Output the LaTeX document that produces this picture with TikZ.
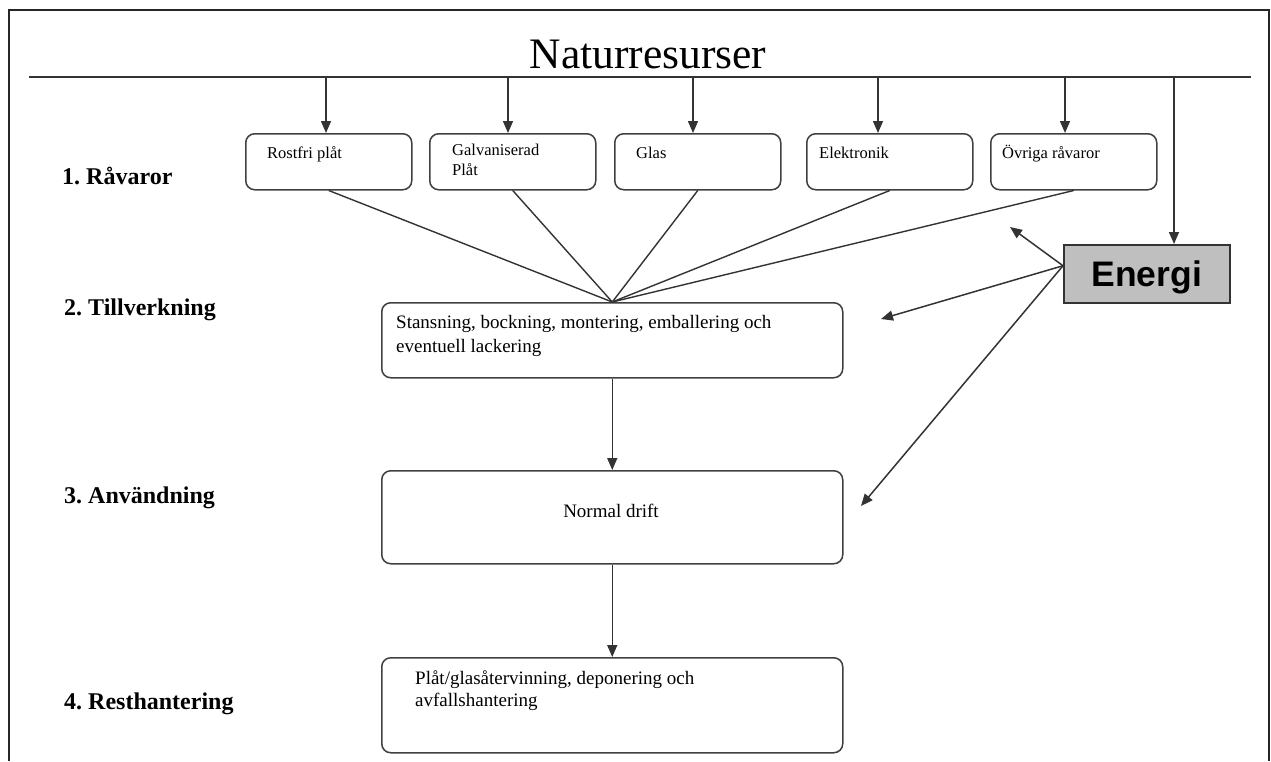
\documentclass[tikz,border=0pt]{standalone}
\usepackage{fontspec}
\setmainfont{Liberation Serif}
\newfontfamily\arialfont{Liberation Sans}
\usetikzlibrary{arrows.meta}
\newcommand\twoln[3]{\vtop{\baselineskip=#1\hbox{#2}\hbox{#3}}}
\frenchspacing
\begin{document}
\frenchspacing
\begin{tikzpicture}[x=1pt,y=-1pt,
  ln/.style={draw=black!80, line width=1.4pt},
  arr/.style={ln, line width=1.5pt, -{Triangle[length=12pt,width=10pt]}},
  rbox/.style={draw=black!75, line width=1.5pt, rounded corners=9pt, inner sep=0pt, anchor=north west},
  smalltxt/.style={font=\fontsize{16.5}{18}\selectfont, inner sep=0pt, anchor=base west},
  midtxt/.style={font=\fontsize{19}{23}\selectfont, inner sep=0pt, anchor=base west},
  labtxt/.style={font=\fontsize{24}{26}\selectfont\bfseries, inner sep=0pt, anchor=base west},
]
\useasboundingbox (0,0) rectangle (1271,761);
\fill[white] (0,0) rectangle (1271,761);
% frame
\draw[black!85, line width=1.5pt] (9,761) -- (9,10) -- (1269,10) -- (1269,761);
% title and bar
\node[font=\fontsize{43.5}{48}\selectfont, inner sep=0pt, anchor=base] (title) at (648,68) {Naturresurser};
\coordinate (barL) at (29,77);
\coordinate (barR) at (1251,77);
\draw[ln, line width=1.8pt] (barL) -- (barR);
% raw material boxes
\node[rbox, minimum width=166pt, minimum height=56pt] (b1) at (245,133) {};
\node[rbox, minimum width=166pt, minimum height=56pt] (b2) at (429,133) {};
\node[rbox, minimum width=166pt, minimum height=56pt] (b3) at (614,133) {};
\node[rbox, minimum width=166pt, minimum height=56pt] (b4) at (806,133) {};
\node[rbox, minimum width=166pt, minimum height=56pt] (b5) at (990,133) {};
\node[smalltxt] (t1) at (267,158) {Rostfri plåt};
\node[smalltxt] (t2) at (452,155) {\twoln{20pt}{Galvaniserad}{Plåt}};
\node[smalltxt] (t3) at (636,158) {Glas};
\node[smalltxt] (t4) at (819,158) {Elektronik};
\node[smalltxt] (t5) at (1002,158) {Övriga råvaror};
% arrows from bar
\coordinate (a1) at (326,77);
\coordinate (a2) at (508,77);
\coordinate (a3) at (693,77);
\coordinate (a4) at (878,77);
\coordinate (a5) at (1065,77);
\coordinate (a6) at (1174,77);
\draw[arr] (a1) -- (a1 |- b1.north);
\draw[arr] (a2) -- (a2 |- b2.north);
\draw[arr] (a3) -- (a3 |- b3.north);
\draw[arr] (a4) -- (a4 |- b4.north);
\draw[arr] (a5) -- (a5 |- b5.north);
% energy
\node[draw=black!80, fill=black!25, line width=1.5pt, minimum width=166pt, minimum height=58pt,
      inner sep=0pt, anchor=north west, text depth=0pt,
      font=\arialfont\bfseries\fontsize{35.5}{40}\selectfont] (energi) at (1063,244) {Energi};
\draw[arr] (a6) -- (a6 |- energi.north);
% stage boxes
\node[rbox, minimum width=461pt, minimum height=75pt] (till) at (381,302) {};
\node[rbox, minimum width=461pt, minimum height=93pt] (norm) at (381,470) {};
\node[rbox, minimum width=461pt, minimum height=95pt] (rest) at (381,657) {};
\node[midtxt] (tt) at (396,328) {\twoln{24pt}{Stansning, bockning, montering, emballering och}{eventuell lackering}};
\node[midtxt, anchor=base] (tn) at (611,517) {Normal drift};
\node[midtxt] (tr) at (415,684) {\twoln{22pt}{Plåt/glasåtervinning, deponering och}{avfallshantering}};
% converging lines
\foreach \b in {b1,b2,b3,b4,b5} \draw[ln] (\b.south) -- (till.north);
\draw[arr] (till.south) -- (norm.north);
\draw[arr] (norm.south) -- (rest.north);
% energy outputs
\coordinate (eOut) at ([yshift=8pt]energi.west);
\coordinate (e1) at (1010,227);
\coordinate (e2) at (881,319);
\coordinate (e3) at (861,506);
\draw[arr] (eOut) -- (e1);
\draw[arr] (eOut) -- (e2);
\draw[arr] (eOut) -- (e3);
% stage labels
\node[labtxt] (l1) at (62,184) {1. Råvaror};
\node[labtxt] (l2) at (64,315) {2. Tillverkning};
\node[labtxt] (l3) at (64,503) {3. Användning};
\node[labtxt] (l4) at (64,709) {4. Resthantering};
\end{tikzpicture}
\end{document}
